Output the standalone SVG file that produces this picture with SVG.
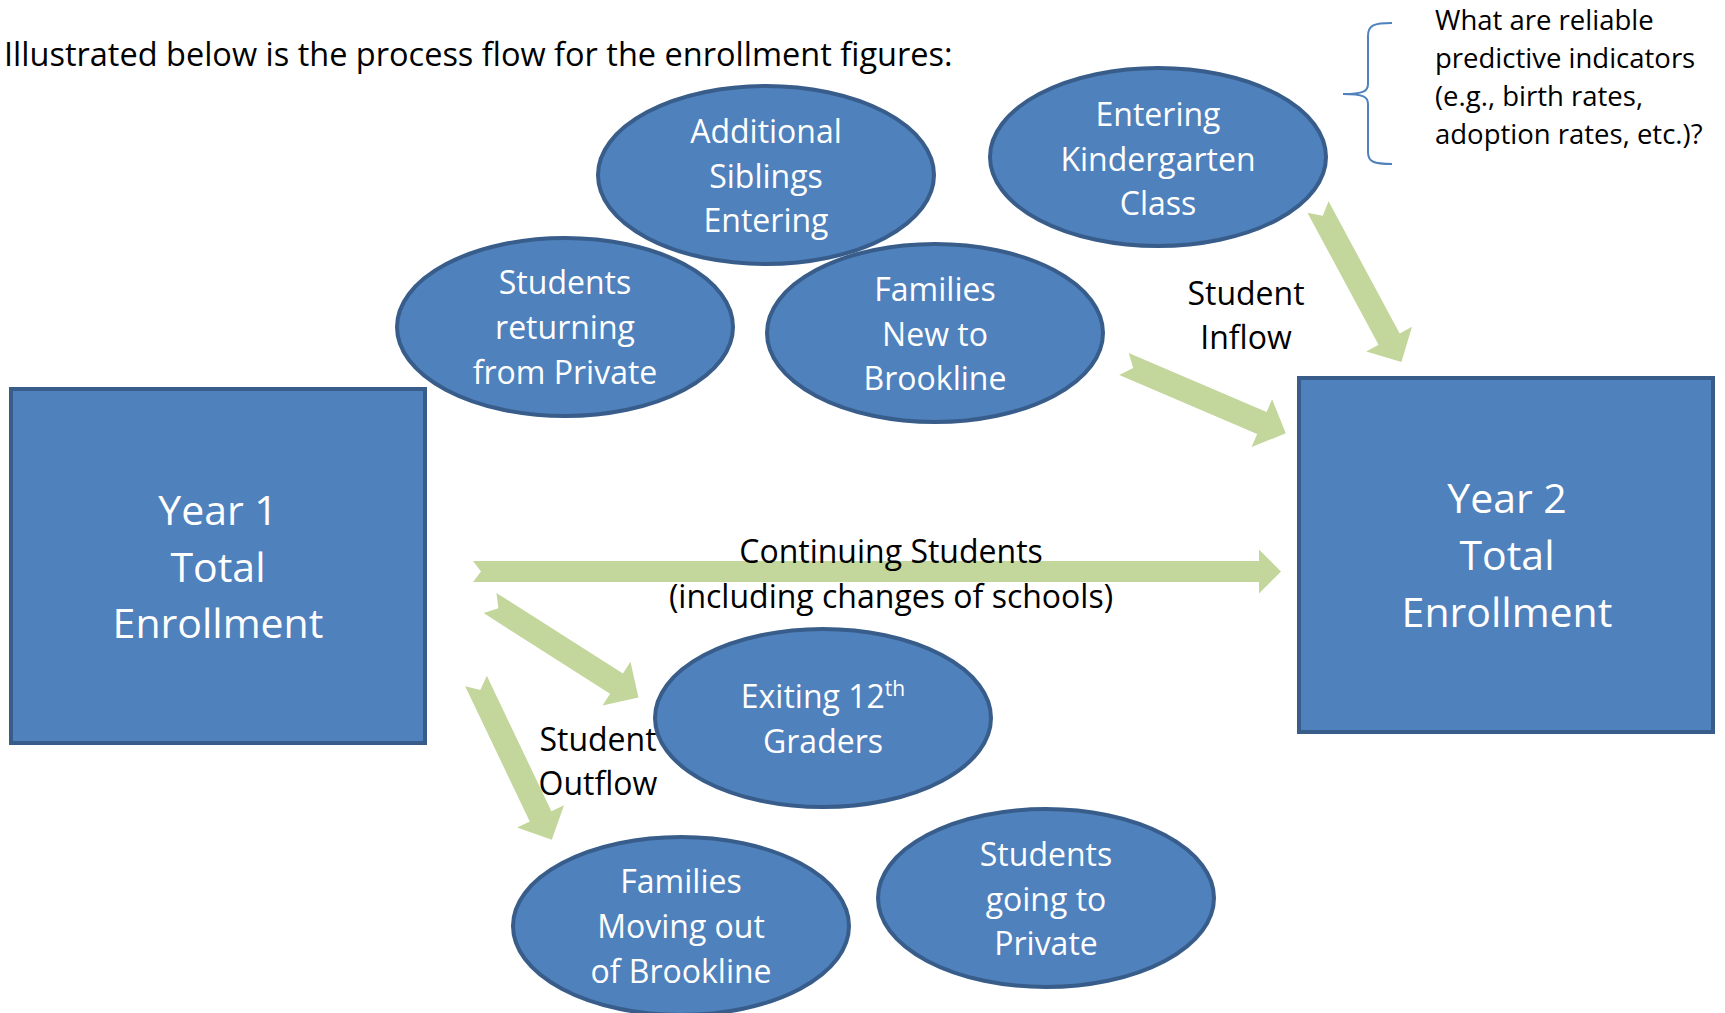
<svg xmlns="http://www.w3.org/2000/svg" width="1725" height="1013" viewBox="0 0 1725 1013">
<style>
  .box { fill: #4F81BD; stroke: #385D8A; stroke-width: 4; }
  .ell { fill: #4F81BD; stroke: #385D8A; stroke-width: 4; }
  .arrow { fill: #C3D69B; }
  .t { font-family: "Open Sans", "Noto Sans", sans-serif; }
  .wt { fill: #FFFFFF; font-size: 32px; text-anchor: middle; }
  .big { fill: #FFFFFF; font-size: 41px; text-anchor: middle; }
  .lbl { fill: #000000; font-size: 32px; text-anchor: middle; }
  .note { fill: #000000; font-size: 27.5px; }
  .title { fill: #000000; font-size: 32.5px; }
</style>
<defs>
  <polygon id="diagArrow" points="0,-12 150,-12 150,-26 176,0 150,26 150,12 0,12 10,0"/>
</defs>
<rect width="1725" height="1013" fill="#FFFFFF"/>

<text class="t title" x="4" y="66">Illustrated below is the process flow for the enrollment figures:</text>

<g id="brace-note">
  <path d="M1392,23 C1374,23 1368,25 1368,36 L1368,84 C1368,91 1364,94 1343,94 C1364,94 1368,97 1368,104 L1368,152 C1368,162 1374,164 1392,164" fill="none" stroke="#4F81BD" stroke-width="2"/>
  <text class="t note" x="1435" y="30">What are reliable</text>
  <text class="t note" x="1435" y="68">predictive indicators</text>
  <text class="t note" x="1435" y="106">(e.g., birth rates,</text>
  <text class="t note" x="1435" y="144">adoption rates, etc.)?</text>
</g>

<g id="connectors">
  <polygon class="arrow" transform="translate(473,571.5)" points="0,-10.5 786,-10.5 786,-22 808,0 786,22 786,10.5 0,10.5 8,0"/>
  <use class="arrow" href="#diagArrow" transform="translate(1318,207) rotate(61.7)"/>
  <use class="arrow" href="#diagArrow" transform="translate(1124,364) rotate(23.2)"/>
  <use class="arrow" href="#diagArrow" transform="translate(490,603) rotate(32.5)"/>
  <use class="arrow" href="#diagArrow" transform="translate(476,681) rotate(64.5)"/>
</g>

<g id="labels">
  <text class="t lbl" x="1246" y="305">Student</text>
  <text class="t lbl" x="1246" y="349">Inflow</text>
  <text class="t lbl" x="891" y="563">Continuing Students</text>
  <text class="t lbl" x="891" y="608">(including changes of schools)</text>
  <text class="t lbl" x="598" y="751">Student</text>
  <text class="t lbl" x="598" y="795">Outflow</text>
</g>

<g id="year1">
  <rect class="box" x="11" y="389" width="414" height="354"/>
  <text class="t big" x="218" y="525">Year 1</text>
  <text class="t big" x="218" y="582">Total</text>
  <text class="t big" x="218" y="638">Enrollment</text>
</g>

<g id="year2">
  <rect class="box" x="1299" y="378" width="414" height="354"/>
  <text class="t big" x="1507" y="513">Year 2</text>
  <text class="t big" x="1507" y="570">Total</text>
  <text class="t big" x="1507" y="627">Enrollment</text>
</g>

<g id="additional-siblings">
  <ellipse class="ell" cx="766" cy="175" rx="168" ry="89"/>
  <text class="t wt" x="766" y="143">Additional</text>
  <text class="t wt" x="766" y="188">Siblings</text>
  <text class="t wt" x="766" y="232">Entering</text>
</g>

<g id="entering-kindergarten">
  <ellipse class="ell" cx="1158" cy="157" rx="168" ry="89"/>
  <text class="t wt" x="1158" y="126">Entering</text>
  <text class="t wt" x="1158" y="171">Kindergarten</text>
  <text class="t wt" x="1158" y="215">Class</text>
</g>

<g id="students-returning">
  <ellipse class="ell" cx="565" cy="327" rx="168" ry="89"/>
  <text class="t wt" x="565" y="294">Students</text>
  <text class="t wt" x="565" y="339">returning</text>
  <text class="t wt" x="565" y="384">from Private</text>
</g>

<g id="families-new">
  <ellipse class="ell" cx="935" cy="333" rx="168" ry="89"/>
  <text class="t wt" x="935" y="301">Families</text>
  <text class="t wt" x="935" y="346">New to</text>
  <text class="t wt" x="935" y="390">Brookline</text>
</g>

<g id="exiting-12th">
  <ellipse class="ell" cx="823" cy="718" rx="168" ry="89"/>
  <text class="t wt" x="823" y="708">Exiting 12<tspan font-size="21" dy="-12">th</tspan></text>
  <text class="t wt" x="823" y="753">Graders</text>
</g>

<g id="families-moving">
  <ellipse class="ell" cx="681" cy="926" rx="168" ry="89"/>
  <text class="t wt" x="681" y="893">Families</text>
  <text class="t wt" x="681" y="938">Moving out</text>
  <text class="t wt" x="681" y="983">of Brookline</text>
</g>

<g id="students-going">
  <ellipse class="ell" cx="1046" cy="898" rx="168" ry="89"/>
  <text class="t wt" x="1046" y="866">Students</text>
  <text class="t wt" x="1046" y="911">going to</text>
  <text class="t wt" x="1046" y="955">Private</text>
</g>
</svg>
